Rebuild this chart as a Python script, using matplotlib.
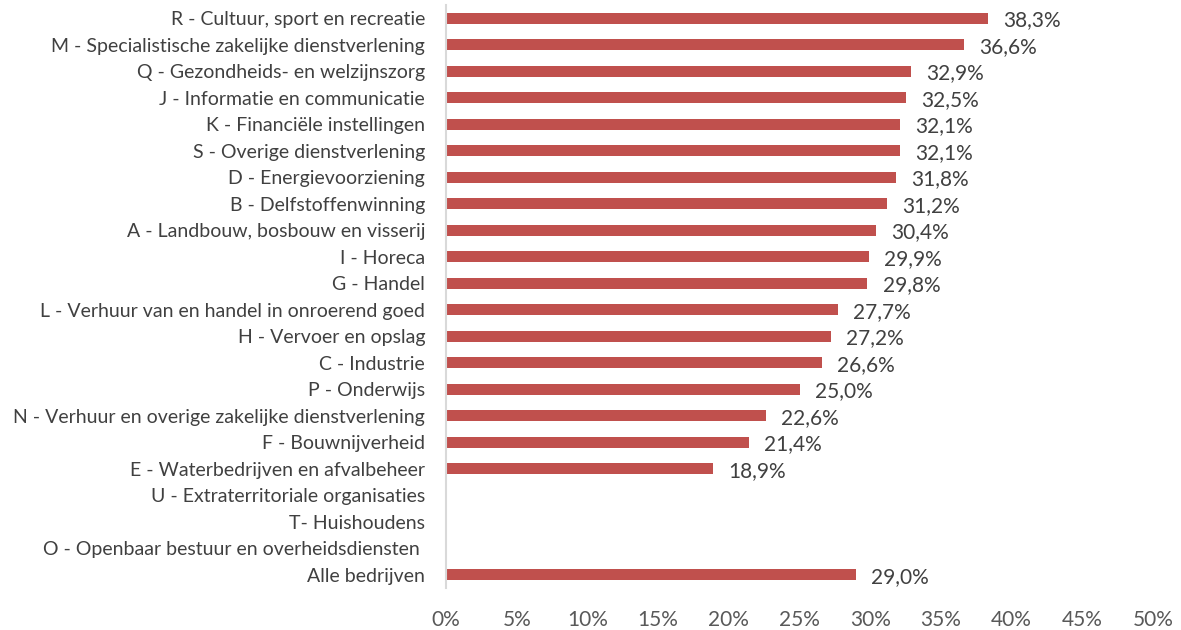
import matplotlib
matplotlib.use("Agg")
import matplotlib.pyplot as plt
import numpy as np
from matplotlib.ticker import FuncFormatter

categories = [
    "R - Cultuur, sport en recreatie",
    "M - Specialistische zakelijke dienstverlening",
    "Q - Gezondheids- en welzijnszorg",
    "J - Informatie en communicatie",
    "K - Financiële instellingen",
    "S - Overige dienstverlening",
    "D - Energievoorziening",
    "B - Delfstoffenwinning",
    "A - Landbouw, bosbouw en visserij",
    "I - Horeca",
    "G - Handel",
    "L - Verhuur van en handel in onroerend goed",
    "H - Vervoer en opslag",
    "C - Industrie",
    "P - Onderwijs",
    "N - Verhuur en overige zakelijke dienstverlening",
    "F - Bouwnijverheid",
    "E - Waterbedrijven en afvalbeheer",
    "U - Extraterritoriale organisaties",
    "T- Huishoudens",
    "O - Openbaar bestuur en overheidsdiensten ",
    "Alle bedrijven",
]
values = [38.3, 36.6, 32.9, 32.5, 32.1, 32.1, 31.8, 31.2, 30.4, 29.9, 29.8,
          27.7, 27.2, 26.6, 25.0, 22.6, 21.4, 18.9, None, None, None, 29.0]
xticks = [0, 5, 10, 15, 20, 25, 30, 35, 40, 45, 50]

plt.rcParams['font.family'] = ['Lato', 'DejaVu Sans']

fig = plt.figure(figsize=(11.81, 6.30), dpi=100)
ax = fig.add_axes([446/1181, 1-588/630, (1153-446)/1181, (588-5)/630])

y = np.arange(len(categories))
vals = np.array([np.nan if v is None else v for v in values], dtype=float)
ax.barh(y, np.nan_to_num(vals), height=0.4, color="#C0504D")
for yi, v in zip(y, vals):
    if not np.isnan(v):
        ax.annotate(f"{v:.1f}%".replace(".", ","), xy=(v, yi), xytext=(11, -1.5),
                    textcoords="offset points", va="center", ha="left",
                    fontsize=15, color="#404040")

ax.set_ylim(len(categories) - 0.5, -0.5)
ax.set_xlim(0, 50)
ax.set_yticks(y)
ax.set_yticklabels(categories, fontsize=14, color="#404040")
ax.set_xticks(xticks)
ax.xaxis.set_major_formatter(FuncFormatter(lambda v, p: f"{v:.0f}%"))
ax.tick_params(axis='x', length=0, pad=16, labelsize=15, labelcolor="#595959")
ax.tick_params(axis='y', length=0, pad=15)
for s in ["top", "right", "bottom"]:
    ax.spines[s].set_visible(False)
ax.spines["left"].set_color("#D9D9D9")
ax.spines["left"].set_linewidth(1.5)

fig.savefig("out.png", dpi=100)
